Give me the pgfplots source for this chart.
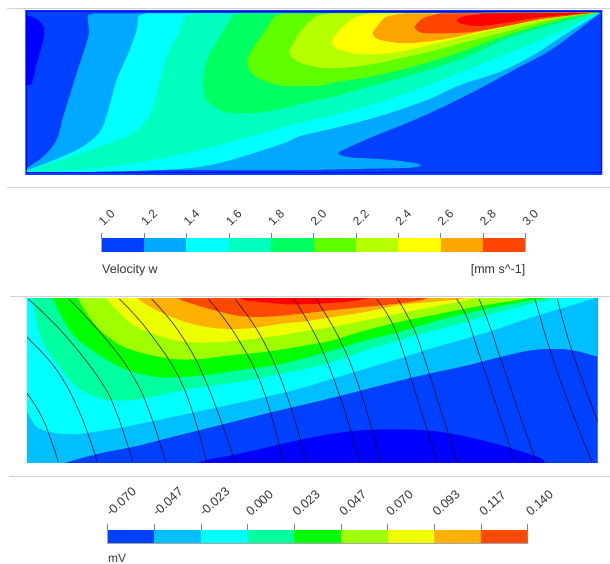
\documentclass[border=0pt]{standalone}
\usepackage{pgfplots}
\pgfplotsset{compat=1.18}
\usepackage{fontspec}
\setmainfont{Liberation Sans}
\definecolor{tA}{HTML}{0000FF}\definecolor{tB}{HTML}{0040FF}\definecolor{tC}{HTML}{00A8FF}
\definecolor{tD}{HTML}{00FFFF}\definecolor{tE}{HTML}{00FFBF}\definecolor{tF}{HTML}{00FF60}
\definecolor{tG}{HTML}{60FF00}\definecolor{tH}{HTML}{B5FF00}\definecolor{tI}{HTML}{FFFF00}
\definecolor{tJ}{HTML}{FFA500}\definecolor{tK}{HTML}{FF4500}\definecolor{tL}{HTML}{FF0000}
\definecolor{bA}{HTML}{0000FF}\definecolor{bB}{HTML}{0040FF}\definecolor{bC}{HTML}{00BFFF}
\definecolor{bD}{HTML}{00FFFF}\definecolor{bE}{HTML}{00FF9F}\definecolor{bF}{HTML}{00FF00}
\definecolor{bG}{HTML}{9FFF00}\definecolor{bH}{HTML}{EEFF00}\definecolor{bI}{HTML}{FFB000}
\definecolor{bJ}{HTML}{FF4A00}\definecolor{bK}{HTML}{FF0000}
\definecolor{rulegrey}{HTML}{D2D2D2}\definecolor{txt}{HTML}{333333}
\pgfplotsset{
  panel/.style={scale only axis, anchor=north west, y dir=reverse, xtick=\empty, ytick=\empty,
    axis line style={rulegrey, line width=0.6pt}},
  region/.style={fill=#1, draw=none, smooth, tension=0.55, forget plot},
  cbar/.style={scale only axis, anchor=north west, ymin=0, ymax=1, ytick=\empty,
    xtick pos=upper, xticklabel pos=upper, tick align=outside,
    tick style={color=gray, line width=0.5pt}, axis line style={color=gray!70, line width=0.6pt}},
  seg/.style={fill=#1, draw=none, forget plot},
  stream/.style={black, opacity=0.75, line width=0.7pt, smooth, tension=0.7, no marks, forget plot}
}
\begin{document}
\begin{tikzpicture}[x=1pt,y=1pt]
\path[use as bounding box] (0,0) rectangle (610,563);
% rules
\draw[rulegrey, line width=1pt] (7,554.7) -- (610,554.7);
\draw[rulegrey, line width=1pt] (7,375.3) -- (610,375.3);
\draw[rulegrey, line width=1pt] (10,267) -- (610,267);
\draw[rulegrey, line width=1pt] (9,87) -- (610,87);
% ---------- top panel
\begin{axis}[panel, at={(25.5pt,552.5pt)}, width=576.5pt, height=163.5pt, xmin=25.5, xmax=602, ymin=10.5, ymax=174]
\addplot[fill=tB, draw=none, forget plot] coordinates {(20,5)(610,5)(610,180)(20,180)};
\addplot[region=tA] coordinates {(26,15)(38.3,20)(44,28.3)(43.3,40)(36.7,63.3)(31.7,83.3)(26,85)};
\addplot[region=tC] coordinates {(95,13.5)(88.3,15)(87.7,20)(88.3,36.7)(76.7,73.3)(63.3,116.7)(56.7,140)(43.3,156.7)(26.7,168.3)(26.7,170.7)(166.7,170)(300,170)(366.7,168.7)(410,167.7)(420.7,165)(410,162.3)(383.3,159.3)(350,157.3)(338.3,153.3)(350,146.7)(376.7,135)(410,121.7)(443.3,106.7)(480,88.3)(516.7,68.3)(553.3,48.3)(600,13)};
\addplot[region=tD] coordinates {(146,13.5)(138.3,16.7)(136.7,30)(128.3,53.3)(116.7,80)(108.3,110)(100,131.7)(80,148.3)(50,161.7)(28.3,170)(30,172)(100,171.7)(160,170)(200,166.7)(233.3,159.3)(283.3,143.3)(300,136)(340,126.7)(383.3,115)(426.7,100)(460,85)(500,71.7)(533.3,55)(566.7,33.3)(600,13)};
\addplot[region=tE] coordinates {(193,13.5)(185,16.7)(178.3,33.3)(166.7,56.7)(160,80)(153.3,106.7)(143.3,125)(126.7,136.7)(100,146.7)(66.7,158.3)(28.3,170.7)(33.3,171.7)(83.3,169.3)(133.3,163.3)(200,150)(266.7,131.7)(300,122.7)(333.3,115)(366.7,106)(400,95)(433.3,83.3)(466.7,70)(500,56.7)(533.3,43.3)(566.7,28.3)(600,13)};
\addplot[region=tF] coordinates {(240,13.5)(233,15)(230,20)(220,36.7)(208.3,56.7)(203.3,76.7)(205,96.7)(216.7,108.3)(233.3,113.3)(266.7,111.7)(300,104)(333,96.7)(366.7,87.3)(400,78.3)(433.3,68.3)(466.7,56.7)(500,41.7)(533.3,30)(566.7,20.7)(598,12.7)};
\addplot[region=tG] coordinates {(285,13.5)(278,15)(273,18.3)(263.3,33.3)(251.7,50)(247.3,61.7)(251.7,73.3)(266.7,81.7)(286.7,86)(320,85.5)(333,82.7)(366.7,77.3)(400,70)(433.3,60.7)(466.7,50)(500,37.3)(533.3,27.3)(566.7,18.3)(597,12.7)};
\addplot[region=tH] coordinates {(330,13.5)(320,15)(313.3,18.3)(300,31.7)(293.3,43.3)(289.3,51.7)(295,60)(310,65.7)(333.3,68.3)(366.7,65)(400,58.3)(433.3,50.7)(466.7,41.7)(500,33.3)(533.3,24)(566.7,16.7)(597,12.7)};
\addplot[region=tI] coordinates {(370,13.5)(353.3,18.3)(340,30)(331.7,41.7)(336.7,48.3)(353.3,53.3)(373.3,54.3)(400,51.7)(433.3,44)(466.7,36)(500,28.3)(533.3,20.7)(566.7,15.3)(596,12.5)};
\addplot[region=tJ] coordinates {(405,13.5)(386.7,16.7)(378.3,25)(372.7,33.3)(378.3,39.3)(396.7,42.7)(416.7,42.7)(450,38.3)(483.3,30.7)(516.7,24)(550,17.3)(596,12.5)};
\addplot[region=tK] coordinates {(440,13.5)(423.3,18.3)(415,26.7)(421.7,32.7)(443.3,33.3)(473.3,31.7)(506.7,26)(540,19.3)(596,12.5)};
\addplot[region=tL] coordinates {(485,13.5)(463.3,16.7)(456.7,20.7)(463.3,24.3)(480,26)(506.7,22.7)(540,17.3)(596,12.5)};
\addplot[tA, line width=1.3pt, forget plot] coordinates {(26.2,11.5)(601.2,11.5)(601.2,172.8)(26.2,172.8)(26.2,11.5)};
\end{axis}
% ---------- colour bar 1
\begin{axis}[cbar, at={(101.7pt,324.7pt)}, width=423.6pt, height=13.4pt, xmin=1, xmax=3,
  major tick length=5.5pt,
  x tick label style={rotate=45, anchor=south west, font=\fontsize{12}{14}\selectfont, text=txt, inner sep=0.5pt, xshift=5pt, yshift=2pt},
  xtick={1.0,1.2,1.4,1.6,1.8,2.0,2.2,2.4,2.6,2.8,3.0},
  xticklabels={1.0,1.2,1.4,1.6,1.8,2.0,2.2,2.4,2.6,2.8,3.0}]
\addplot[seg=tB] coordinates {(1.0,0)(1.2,0)(1.2,1)(1.0,1)};
\addplot[seg=tC] coordinates {(1.2,0)(1.4,0)(1.4,1)(1.2,1)};
\addplot[seg=tD] coordinates {(1.4,0)(1.6,0)(1.6,1)(1.4,1)};
\addplot[seg=tE] coordinates {(1.6,0)(1.8,0)(1.8,1)(1.6,1)};
\addplot[seg=tF] coordinates {(1.8,0)(2.0,0)(2.0,1)(1.8,1)};
\addplot[seg=tG] coordinates {(2.0,0)(2.2,0)(2.2,1)(2.0,1)};
\addplot[seg=tH] coordinates {(2.2,0)(2.4,0)(2.4,1)(2.2,1)};
\addplot[seg=tI] coordinates {(2.4,0)(2.6,0)(2.6,1)(2.4,1)};
\addplot[seg=tJ] coordinates {(2.6,0)(2.8,0)(2.8,1)(2.6,1)};
\addplot[seg=tK] coordinates {(2.8,0)(3.0,0)(3.0,1)(2.8,1)};
\end{axis}
\node[anchor=base west, inner sep=0, text=txt, font=\fontsize{12.5}{15}\selectfont] at (102,289.5) {Velocity w};
\node[anchor=base east, inner sep=0, text=txt, font=\fontsize{12.5}{15}\selectfont] at (525.5,289.5) {[mm s\string^-1]};
% ---------- lower panel
\begin{axis}[panel, at={(27pt,264.3pt)}, width=570.7pt, height=163.3pt, xmin=27, xmax=597.7, ymin=298.7, ymax=462]
\addplot[fill=bB, draw=none, forget plot] coordinates {(20,290)(610,290)(610,470)(20,470)};
\addplot[region=bA] coordinates {(180,475)(200,462)(233.3,455)(266.7,447.5)(300,440)(333.3,433.5)(366.7,430)(400,429.3)(433.3,431)(466.7,436.7)(500,445)(526.7,453.3)(543.3,460)(545,470)};
\addplot[region=bC] coordinates {(10,290)(10,470)(40,470)(68.3,461.7)(100,453.3)(133.3,446.7)(166.7,438.3)(200,430)(233.3,421.7)(266.7,413.3)(300,405.5)(333.3,397.5)(366.7,389)(400,380.5)(433.3,372.7)(466.7,365.5)(500,357)(533.3,350)(566.7,349.3)(598,356.7)(615,362)(615,290)};
\addplot[region=bD] coordinates {(10,290)(15,392)(27,411.7)(36.7,426.7)(53.3,432.7)(76.7,434)(116.7,428.3)(150,421.7)(200,411)(233.3,404)(266.7,396.5)(300,388.5)(333.3,378.3)(366.7,368.3)(400,358.3)(433.3,347.7)(466.7,338.3)(500,328)(533.3,316.7)(566.7,306.7)(591.7,299)(605,293)(612,285)};
\addplot[region=bE] coordinates {(31,285)(33,299)(35,313.3)(41.7,340)(56.7,363.3)(76.7,386.7)(100,398.3)(123.3,400.7)(150,397.3)(183.3,390)(216.7,385)(250,380)(283.3,373.3)(300,370)(333.3,361.7)(366.7,350)(400,340)(433.3,330.7)(466.7,321.7)(500,311.7)(533.3,303.3)(560,297)(590,285)};
\addplot[region=bF] coordinates {(48,285)(53.3,299)(61.7,316.7)(75,336.7)(96.7,353.3)(123.3,368.3)(150,376)(173.3,377.3)(206.7,375)(240,370)(276.7,365)(300,359.3)(333.3,350)(366.7,340)(400,331.7)(433.3,321.7)(466.7,313.3)(500,306)(533.3,300)(552,297)(590,285)};
\addplot[region=bG] coordinates {(70,285)(78.3,299)(86.7,313.3)(100,330)(120,345)(143.3,353.3)(173.3,359)(200,359)(233.3,355)(266.7,351.7)(310,344.7)(333.3,340)(366.7,330)(400,321.7)(433.3,315)(466.7,308.3)(500,302.7)(526.7,298)(560,285)};
\addplot[region=bH] coordinates {(95,285)(106.7,299)(116.7,310)(133.3,325)(156.7,335)(183.3,341.7)(216.7,342.3)(250,339.3)(283.3,335)(300,332)(333.3,326.7)(366.7,320)(400,313.3)(433.3,306.7)(466.7,300)(480,297)(520,285)};
\addplot[region=bI] coordinates {(125,285)(138.3,299)(150,306.7)(166.7,315)(190,323.3)(216.7,328.3)(250,328.3)(283.3,323.3)(300,322)(333.3,317)(366.7,311.7)(400,305)(433.3,301.7)(466,298)(500,285)};
\addplot[region=bJ] coordinates {(165,285)(180,299)(193.3,304)(213.3,310)(240,316)(266.7,316.7)(293.3,314.5)(310,312.7)(333.3,310)(366.7,306.7)(400,303.3)(426.7,298.5)(450,285)};
\addplot[region=bK] coordinates {(225,285)(241.7,299)(260,301.7)(286.7,304.3)(300,304.3)(333.3,302.7)(365,298.5)(390,285)};
\addplot[stream] coordinates {(27,393.3)(43.3,420)(58.3,461.7)};
\addplot[stream] coordinates {(27,337.3)(56.7,370)(80,413.3)(97.3,461.7)};
\addplot[stream] coordinates {(28.3,299)(63.3,333.3)(100,380)(116.7,413.3)(132.7,461.7)};
\addplot[stream] coordinates {(69,299)(106.7,340)(133.3,376.7)(150,413.3)(165.7,461.7)};
\addplot[stream] coordinates {(119.3,299)(150,333.3)(183.3,386.7)(206.7,461.7)};
\addplot[stream] coordinates {(151.7,299)(180,333.3)(206.7,383.3)(235,461.7)};
\addplot[stream] coordinates {(208.3,299)(236.7,336.7)(263.3,390)(283.3,461.7)};
\addplot[stream] coordinates {(235,299)(261,336.7)(285,390)(306.7,461.7)};
\addplot[stream] coordinates {(293.3,299)(300,308.3)(320,345)(340,396.7)(360,461.7)};
\addplot[stream] coordinates {(316,299)(340,340)(360,390)(381,461.7)};
\addplot[stream] coordinates {(376.7,299)(386.7,313.3)(396.7,333.3)(406.7,363.3)(416.7,396.7)(437.3,461.7)};
\addplot[stream] coordinates {(397.7,299)(406,313.3)(415.7,333.3)(426,363.3)(436.5,396.7)(457.3,461.7)};
\addplot[stream] coordinates {(456.7,299)(466.7,316.7)(476.7,346.7)(490,386.7)(515,461.7)};
\addplot[stream] coordinates {(479,299)(490,326.7)(503.3,366.7)(536,461.7)};
\addplot[stream] coordinates {(535,299)(550,350)(570,406.7)(591.7,461.7)};
\addplot[stream] coordinates {(557.3,299)(571.7,350)(597.7,421.7)};
\end{axis}
% ---------- colour bar 2
\begin{axis}[cbar, at={(107.7pt,33pt)}, width=420pt, height=13pt, xmin=-0.07, xmax=0.14,
  major tick length=6.5pt,
  x tick label style={rotate=42, anchor=south west, font=\fontsize{12.5}{14}\selectfont, text=txt, inner sep=0.5pt, xshift=6pt, yshift=2pt},
  xtick={-0.07,-0.04667,-0.02333,0,0.02333,0.04667,0.07,0.09333,0.11667,0.14},
  xticklabels={-0.070,-0.047,-0.023,0.000,0.023,0.047,0.070,0.093,0.117,0.140}]
\addplot[seg=bB] coordinates {(-0.07,0)(-0.04667,0)(-0.04667,1)(-0.07,1)};
\addplot[seg=bC] coordinates {(-0.04667,0)(-0.02333,0)(-0.02333,1)(-0.04667,1)};
\addplot[seg=bD] coordinates {(-0.02333,0)(0,0)(0,1)(-0.02333,1)};
\addplot[seg=bE] coordinates {(0,0)(0.02333,0)(0.02333,1)(0,1)};
\addplot[seg=bF] coordinates {(0.02333,0)(0.04667,0)(0.04667,1)(0.02333,1)};
\addplot[seg=bG] coordinates {(0.04667,0)(0.07,0)(0.07,1)(0.04667,1)};
\addplot[seg=bH] coordinates {(0.07,0)(0.09333,0)(0.09333,1)(0.07,1)};
\addplot[seg=bI] coordinates {(0.09333,0)(0.11667,0)(0.11667,1)(0.09333,1)};
\addplot[seg=bJ] coordinates {(0.11667,0)(0.14,0)(0.14,1)(0.11667,1)};
\end{axis}
\node[anchor=base west, inner sep=0, text=txt, font=\fontsize{12}{14}\selectfont] at (108,1) {mV};
\end{tikzpicture}
\end{document}
